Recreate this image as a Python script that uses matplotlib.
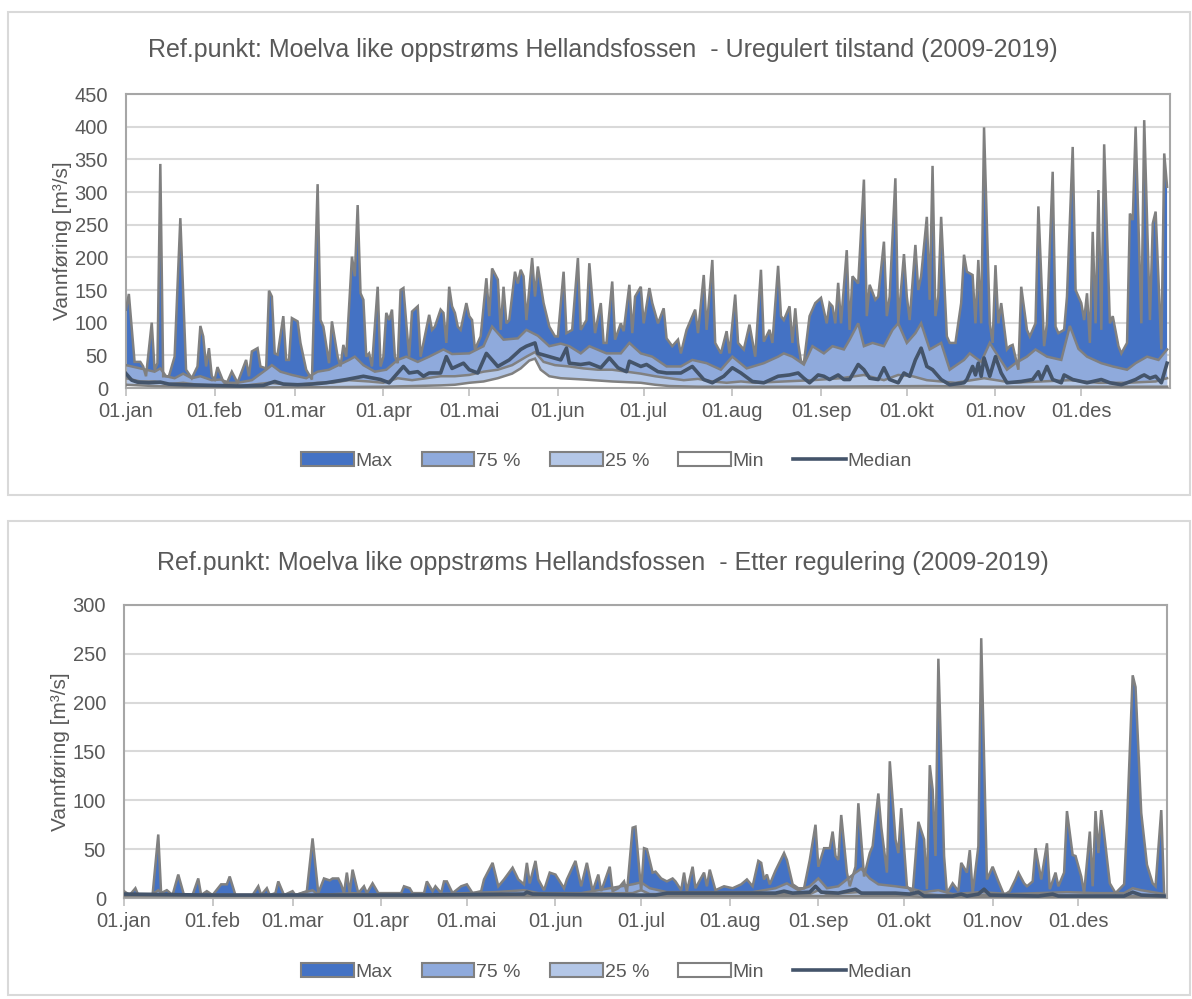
import matplotlib.pyplot as plt
from matplotlib.patches import Patch, Rectangle
from matplotlib.lines import Line2D

plt.rcParams['font.family'] = ['Liberation Sans', 'DejaVu Sans']

# month labels and day-of-year of the first of each month
months = ['01.jan', '01.feb', '01.mar', '01.apr', '01.mai', '01.jun',
          '01.jul', '01.aug', '01.sep', '01.okt', '01.nov', '01.des']
month_day = [0, 31, 59, 90, 120, 151, 181, 212, 243, 273, 304, 334]

# ---- Uregulert tilstand (m3/s) ----
u_max_day = [0, 1, 3, 5, 6, 7, 9, 10, 11, 12, 13, 15, 17, 19, 21, 23, 25, 26, 27, 28, 29, 30, 31, 32, 34, 35, 37, 39,
             42, 43, 44, 46, 47, 49, 50, 51, 52, 53, 55, 56, 57, 58, 60, 61, 63, 65, 67, 68, 69, 71, 72, 74, 75, 76,
             77, 79, 80, 81, 82, 83, 84, 85, 86, 88, 89, 90, 91, 92, 93, 94, 95, 96, 97, 98, 99, 100, 102, 103, 104,
             106, 107, 108, 110, 111, 112, 113, 114, 115, 116, 117, 119, 120, 121, 122, 124, 126, 127, 128, 130, 131,
             132, 133, 134, 136, 137, 138, 139, 140, 142, 143, 144, 146, 148, 150, 151, 153, 154, 156, 158, 159, 161,
             162, 164, 166, 167, 168, 170, 171, 173, 174, 176, 177, 178, 180, 181, 183, 184, 186, 188, 189, 191, 193,
             194, 196, 199, 200, 202, 203, 205, 206, 208, 210, 211, 213, 214, 216, 218, 220, 222, 223, 225, 226, 228,
             229, 230, 232, 233, 234, 235, 236, 237, 239, 241, 243, 245, 246, 247, 248, 249, 250, 252, 253, 254, 256,
             258, 259, 260, 262, 263, 265, 266, 267, 269, 270, 272, 273, 274, 276, 277, 278, 280, 281, 282, 283, 284,
             285, 287, 288, 290, 292, 293, 294, 296, 297, 298, 299, 300, 302, 303, 304, 305, 306, 308, 309, 310, 312,
             313, 315, 316, 318, 319, 321, 322, 324, 325, 326, 328, 329, 331, 332, 334, 335, 336, 337, 338, 339, 340,
             341, 342, 344, 345, 347, 348, 350, 351, 352, 353, 355, 356, 358, 359, 360, 362, 363, 364]
u_max = [120, 144, 40, 40, 33, 18, 100, 28, 38, 343, 18, 18, 48, 260, 28, 15, 33, 95, 79, 33, 61, 18, 13, 32, 10, 5, 25, 8,
         43, 18, 56, 61, 33, 30, 149, 140, 53, 51, 110, 43, 43, 107, 102, 69, 28, 13, 312, 104, 94, 38, 102, 48, 33, 66,
         48, 201, 171, 280, 145, 135, 48, 53, 33, 155, 33, 48, 115, 104, 120, 48, 38, 150, 153, 99, 48, 117, 125, 48, 69,
         112, 89, 94, 120, 115, 69, 155, 125, 115, 94, 89, 130, 110, 104, 59, 79, 168, 110, 183, 166, 89,
         155, 99, 104, 178, 160, 181, 171, 104, 199, 140, 186, 130, 94, 79, 79, 178, 84, 89, 199, 89, 104,
         191, 84, 130, 69, 69, 163, 74, 99, 87, 158, 84, 140, 155, 99, 153, 130, 99, 122, 76, 64, 74,
         53, 89, 120, 84, 173, 89, 196, 69, 53, 87, 53, 143, 69, 59, 97, 48, 181, 71, 89, 69, 187,
         110, 104, 125, 69, 122, 69, 41, 38, 110, 130, 138, 99, 130, 125, 99, 161, 99, 211, 89, 171, 160,
         319, 110, 158, 135, 140, 224, 110, 140, 321, 99, 205, 140, 104, 219, 150, 171, 262, 135, 340, 110, 140,
         262, 79, 69, 69, 130, 204, 178, 173, 99, 196, 99, 399, 99, 69, 188, 99, 130, 59, 64, 66, 28,
         155, 89, 79, 99, 278, 64, 99, 331, 94, 84, 89, 140, 369, 150, 130, 104, 145, 69, 239, 99, 303,
         89, 373, 99, 110, 64, 53, 69, 267, 257, 400, 99, 410, 104, 252, 270, 59, 359, 308]

u_q75_day = [0, 2, 5, 10, 12, 14, 17, 20, 23, 26, 30, 33, 36, 39, 44, 49, 51, 54, 58, 63, 67, 71, 78, 80, 83, 87, 91,
             95, 98, 102, 106, 111, 114, 120, 125, 128, 132, 137, 140, 144, 148, 152, 155, 159, 162, 168, 173, 176,
             180, 184, 189, 194, 198, 203, 208, 212, 217, 223, 228, 230, 233, 237, 240, 244, 247, 251, 253, 256, 258,
             261, 265, 268, 270, 273, 276, 278, 281, 285, 288, 293, 295, 299, 302, 304, 308, 311, 315, 318, 322, 327,
             330, 333, 336, 341, 345, 350, 353, 357, 361, 364]
u_q75 = [35, 33, 30, 25, 30, 18, 15, 22, 15, 18, 12, 13, 8, 8, 12, 28, 35, 25, 20, 15, 25, 28, 43, 48, 35, 25, 28,
         43, 48, 40, 48, 59, 52, 53, 64, 94, 74, 76, 89, 80, 64, 68, 64, 53, 64, 53, 53, 69,
         53, 48, 33, 33, 43, 38, 28, 48, 30, 38, 48, 53, 48, 36, 64, 53, 64, 59, 74, 99, 64,
         69, 64, 89, 99, 69, 84, 99, 59, 69, 28, 43, 53, 40, 69, 55, 28, 38, 48, 59, 48, 43,
         95, 60, 48, 38, 33, 28, 38, 48, 43, 59]

u_q25_day = [0, 5, 10, 15, 20, 25, 30, 40, 50, 55, 60, 67, 72, 78, 85, 90, 95, 100, 105, 110, 115, 120, 125, 130, 135,
             140, 143, 146, 150, 155, 160, 165, 170, 175, 180, 185, 190, 195, 200, 205, 210, 215, 220, 230, 240, 250,
             258, 265, 270, 275, 280, 290, 300, 310, 320, 330, 340, 350, 360, 364]
u_q25 = [15, 10, 10, 6, 8, 5, 4, 3, 8, 6, 5, 8, 8, 12, 10, 8, 15, 12, 15, 18, 18, 20, 25, 28, 35,
         48, 55, 40, 35, 33, 30, 28, 28, 25, 22, 18, 15, 12, 14, 10, 8, 10, 8, 10, 12, 15,
         20, 12, 20, 18, 12, 8, 15, 8, 10, 12, 8, 8, 10, 15]

u_min_day = [0, 10, 20, 30, 60, 90, 100, 110, 115, 120, 125, 130, 135, 138, 141, 143, 145, 148, 152, 160, 170, 180,
             185, 190, 200, 240, 280, 300, 364]
u_min = [5, 3, 2, 1, 1, 2, 3, 4, 5, 8, 10, 15, 22, 30, 42, 45, 28, 18, 15, 13, 10, 8, 5, 3, 2, 2, 3, 2, 2]

u_med_day = [0, 2, 4, 8, 12, 15, 20, 30, 40, 48, 52, 55, 60, 65, 70, 77, 83, 89, 92, 97, 99, 102, 104, 106, 110, 112,
             114, 118, 120, 123, 126, 130, 134, 138, 140, 143, 144, 148, 152, 154, 155, 159, 162, 166, 169, 172, 175,
             176, 180, 182, 186, 189, 194, 198, 202, 205, 209, 212, 215, 219, 223, 228, 232, 235, 237, 239, 242, 244,
             246, 249, 251, 253, 256, 258, 260, 263, 265, 267, 270, 272, 274, 276, 278, 280, 282, 285, 288, 293, 294,
             296, 297, 298, 299, 300, 302, 304, 306, 308, 313, 317, 319, 320, 322, 324, 327, 328, 331, 336, 341, 344,
             348, 350, 353, 355, 356, 358, 360, 362, 364]
u_med = [22, 12, 9, 8, 9, 6, 5, 4, 3, 4, 10, 6, 5, 6, 8, 13, 18, 13, 8, 33, 23, 25, 18, 23, 23, 48,
         30, 38, 28, 23, 53, 33, 43, 59, 64, 69, 53, 48, 43, 61, 38, 36, 38, 31, 46, 31, 25,
         41, 33, 36, 25, 23, 23, 33, 13, 8, 18, 31, 23, 10, 8, 18, 20, 23, 15, 8, 20, 18,
         13, 20, 13, 13, 36, 28, 15, 13, 31, 13, 8, 23, 18, 43, 61, 33, 28, 13, 5, 8, 13,
         33, 20, 38, 18, 46, 18, 48, 23, 8, 10, 13, 25, 13, 33, 13, 8, 20, 13, 8, 13, 8,
         5, 8, 13, 18, 20, 15, 18, 8, 38]

# ---- Etter regulering ----
r_max_day = [0, 2, 4, 5, 10, 12, 13, 15, 17, 19, 21, 24, 26, 27, 29, 31, 34, 36, 37, 39, 45, 47, 48, 50, 51, 53, 54, 56,
             59, 60, 64, 66, 68, 70, 72, 73, 75, 76, 77, 78, 79, 80, 82, 84, 85, 87, 89, 92, 97, 98, 100, 101, 105,
             106, 108, 109, 111, 112, 113, 115, 118, 120, 122, 125, 126, 129, 131, 133, 136, 138, 140, 141, 142, 144,
             145, 147, 149, 151, 154, 155, 158, 160, 162, 164, 166, 167, 170, 171, 173, 175, 176, 178, 179, 181, 182,
             183, 185, 186, 188, 190, 192, 193, 195, 196, 197, 199, 200, 203, 204, 205, 207, 210, 213, 216, 218, 220,
             222, 223, 224, 225, 226, 228, 231, 232, 234, 236, 238, 240, 242, 243, 245, 247, 248, 249, 250, 251, 253,
             254, 256, 257, 259, 261, 262, 264, 265, 267, 268, 270, 271, 272, 274, 276, 278, 280, 281, 282, 283, 284,
             285, 287, 288, 290, 292, 293, 295, 296, 297, 299, 300, 302, 304, 306, 308, 310, 312, 313, 315, 316, 318,
             319, 321, 323, 324, 326, 327, 329, 330, 332, 333, 335, 336, 338, 339, 340, 341, 342, 343, 345, 347, 350,
             351, 353, 354, 356, 358, 360, 361, 363, 364]
r_max = [7, 3, 10, 3, 3, 65, 5, 8, 3, 24, 3, 3, 20, 3, 7, 3, 14, 14, 22, 3, 3, 12, 3, 10, 3, 5, 17, 3,
         7, 3, 7, 61, 5, 20, 18, 20, 20, 14, 5, 26, 5, 29, 5, 12, 5, 15, 5, 5, 5, 12, 10, 5, 5,
         17, 7, 12, 5, 17, 17, 5, 12, 14, 5, 7, 19, 36, 12, 19, 31, 19, 14, 36, 15, 38,
         19, 8, 26, 24, 10, 19, 38, 12, 36, 7, 24, 7, 32, 7, 10, 17, 5, 72, 73, 7, 51,
         50, 26, 27, 20, 17, 20, 17, 8, 26, 7, 32, 10, 26, 12, 29, 8, 12, 10, 14, 19, 12,
         38, 36, 19, 24, 14, 28, 46, 39, 14, 10, 10, 39, 75, 32, 51, 51, 68, 43, 39, 85, 26,
         12, 32, 97, 22, 46, 53, 107, 73, 26, 140, 60, 46, 92, 12, 5, 78, 60, 9, 136, 111, 43,
         245, 43, 5, 15, 7, 36, 26, 49, 5, 53, 266, 19, 32, 17, 3, 7, 19, 26, 15, 12, 17,
         51, 19, 56, 9, 26, 12, 26, 89, 44, 43, 22, 5, 68, 12, 89, 46, 90, 66, 15, 5, 14,
         75, 228, 216, 87, 34, 15, 12, 90, 5]

r_q75_day = [0, 10, 12, 14, 30, 60, 66, 68, 80, 90, 110, 130, 140, 145, 160, 178, 181, 184, 190, 200, 220, 228, 232,
             236, 240, 243, 246, 250, 256, 258, 261, 264, 270, 275, 280, 285, 290, 300, 310, 330, 340, 350, 353, 356,
             364]
r_q75 = [4, 4, 8, 3, 3, 3, 8, 3, 5, 3, 4, 6, 8, 5, 5, 14, 16, 10, 6, 6, 6, 10, 15,
         8, 12, 20, 10, 12, 26, 30, 20, 14, 12, 10, 6, 8, 4, 6, 4, 6, 5, 5, 10, 8,
         4]

r_q25_day = [0, 60, 120, 140, 178, 181, 184, 240, 243, 246, 257, 260, 280, 285, 364]
r_q25 = [3, 3, 3, 4, 5, 8, 4, 4, 8, 4, 6, 4, 4, 3, 2]

r_min_day = [0, 120, 180, 240, 275, 280, 364]
r_min = [2, 2, 2, 2, 2, 1, 1]

r_med_day = [0, 30, 60, 100, 140, 141, 143, 180, 186, 190, 200, 220, 228, 231, 234, 240, 242, 244, 250, 256, 258, 270,
             275, 278, 280, 290, 293, 295, 299, 301, 303, 320, 325, 327, 350, 353, 356, 364]
r_med = [4, 3, 3, 3, 4, 6, 4, 3, 3, 5, 5, 5, 5, 7, 5, 6, 12, 6, 5, 9, 5, 5, 4, 6, 2, 2, 4, 2, 4, 9, 3,
         2, 4, 2, 2, 6, 3, 2]

C_MAX = '#4472C4'
C_75 = '#8FAADC'
C_25 = '#B4C7E7'
EDGE = '#808080'
C_MED = '#44546A'
TXT = '#595959'

fig = plt.figure(figsize=(11.92, 9.99), dpi=100)

# panel frames
for y0, y1 in [(12, 495), (521, 995)]:
    fig.add_artist(Rectangle((8 / 1192, 1 - y1 / 999), 1182 / 1192, (y1 - y0) / 999,
                             transform=fig.transFigure, fill=False, edgecolor='#D9D9D9', lw=1.5))


def draw(ax, series, ymax, title, title_y):
    for d, v, fc in series[:4]:
        ax.fill_between(d, 0, v, facecolor=fc, edgecolor='none', zorder=2)
        ax.plot(d, v, color=EDGE, lw=1.8, zorder=3, solid_joinstyle='miter')
    d, v = series[4]
    ax.plot(d, v, color=C_MED, lw=2.6, zorder=4)
    ax.set_xlim(0, 365)
    ax.set_ylim(0, ymax)
    ax.set_yticks(range(0, ymax + 1, 50))
    ax.set_xticks(month_day)
    ax.set_xticklabels(months)
    ax.grid(axis='y', color='#D9D9D9', lw=1.5, zorder=0)
    ax.set_axisbelow(True)
    for s in ax.spines.values():
        s.set_color('#A6A6A6')
        s.set_linewidth(1.5)
    ax.tick_params(axis='y', length=0, labelsize=14.5, labelcolor=TXT, pad=13)
    ax.tick_params(axis='x', length=6, width=1.2, color='#BFBFBF', labelsize=14.5, labelcolor=TXT, pad=4)
    ax.set_ylabel('Vannføring [m³/s]', fontsize=15, color=TXT, labelpad=2)
    fig.text(0.506, title_y, title, ha='center', va='center', fontsize=18, color=TXT)


ax1 = fig.add_axes([0.1057, 0.6116, 0.8758, 0.2943])
draw(ax1, [(u_max_day, u_max, C_MAX), (u_q75_day, u_q75, C_75), (u_q25_day, u_q25, C_25),
           (u_min_day, u_min, 'white'), (u_med_day, u_med)], 450,
     'Ref.punkt: Moelva like oppstrøms Hellandsfossen  - Uregulert tilstand (2009-2019)', 0.950)

ax2 = fig.add_axes([0.1040, 0.1011, 0.8750, 0.2933])
draw(ax2, [(r_max_day, r_max, C_MAX), (r_q75_day, r_q75, C_75), (r_q25_day, r_q25, C_25),
           (r_min_day, r_min, 'white'), (r_med_day, r_med)], 300,
     'Ref.punkt: Moelva like oppstrøms Hellandsfossen  - Etter regulering (2009-2019)', 0.4364)

handles = [Patch(facecolor=C_MAX, edgecolor=EDGE, lw=1.5),
           Patch(facecolor=C_75, edgecolor=EDGE, lw=1.5),
           Patch(facecolor=C_25, edgecolor=EDGE, lw=1.5),
           Patch(facecolor='white', edgecolor=EDGE, lw=1.5),
           Line2D([], [], color=C_MED, lw=2.6)]
labels = ['Max', '75 %', '25 %', 'Min', 'Median']
for ly in [0.5385, 0.027]:
    fig.legend(handles, labels, loc='center', bbox_to_anchor=(0.509, ly), ncol=5, frameon=False,
               fontsize=14, labelcolor=TXT, handlelength=2.7, handleheight=0.7, handletextpad=0.1,
               columnspacing=1.5)

fig.savefig('out.png', dpi=100)
